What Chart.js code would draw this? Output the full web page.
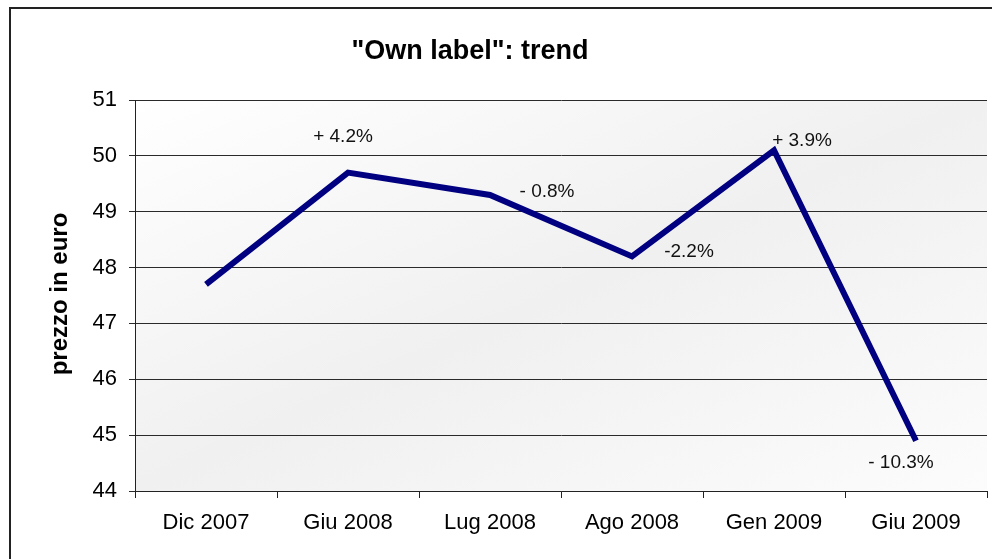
<!DOCTYPE html>
<html>
<head>
<meta charset="utf-8">
<script src="https://cdn.jsdelivr.net/npm/chart.js@4.4.1/dist/chart.umd.min.js"></script>
<style>
  html, body { margin: 0; padding: 0; background: #fff; overflow: hidden; }
  #frame { position: absolute; left: 9px; top: 7px; width: 1100px; height: 700px; border-left: 2px solid #222; border-top: 2px solid #222; }
  #wrap { position: absolute; left: 0; top: 0; width: 992px; height: 559px; }
</style>
</head>
<body>
<div id="frame"></div>
<div id="wrap"><canvas id="trendChart" width="992" height="559"></canvas></div>
<script>
var categories = ["Dic 2007", "Giu 2008", "Lug 2008", "Ago 2008", "Gen 2009", "Giu 2009"];
var prices = [47.7, 49.7, 49.3, 48.2, 50.1, 44.9];
var changes = ["", "+ 4.2%", "- 0.8%", "-2.2%", "+ 3.9%", "- 10.3%"];
var yTicks = [44, 45, 46, 47, 48, 49, 50, 51];

var chartTitle = '"Own label": trend';
var yTitle = 'prezzo in euro';
var fontFamily = 'Arial, "Liberation Sans", sans-serif';

// plot area fill: white corners top-left / bottom-right, grey band across the other diagonal
var plotBackground = {
  id: 'plotBackground',
  beforeDraw: function (chart) {
    var a = chart.chartArea;
    var ctx = chart.ctx;
    var cx = (a.left + a.right) / 2, cy = (a.top + a.bottom) / 2;
    var vx = a.height, vy = a.width;
    var len = Math.sqrt(vx * vx + vy * vy);
    var ux = vx / len, uy = vy / len;
    var half = (a.width / 2 * ux + a.height / 2 * uy);
    var g = ctx.createLinearGradient(cx - half * ux, cy - half * uy, cx + half * ux, cy + half * uy);
    g.addColorStop(0, '#ffffff');
    g.addColorStop(0.5, '#f0f0f0');
    g.addColorStop(1, '#fcfcfc');
    ctx.save();
    ctx.fillStyle = g;
    ctx.fillRect(a.left, a.top, a.width, a.height);
    ctx.restore();
  }
};

// chart title, axis title and the percent labels
var textLayer = {
  id: 'textLayer',
  afterDatasetsDraw: function (chart, args, opts) {
    var ctx = chart.ctx;
    ctx.save();
    ctx.fillStyle = '#000';
    ctx.textAlign = 'center';
    ctx.textBaseline = 'middle';

    ctx.font = 'bold 27px ' + fontFamily;
    ctx.fillText(chartTitle, 470, 52);

    ctx.save();
    ctx.translate(60, 294);
    ctx.rotate(-Math.PI / 2);
    ctx.font = 'bold 24px ' + fontFamily;
    ctx.fillText(yTitle, 0, 0);
    ctx.restore();

    ctx.font = '19px ' + fontFamily;
    ctx.fillStyle = '#111';
    var pts = chart.getDatasetMeta(0).data;
    for (var i = 0; i < pts.length; i++) {
      if (!changes[i]) continue;
      var off = opts.offsets[i];
      ctx.fillText(changes[i], pts[i].x + off[0], pts[i].y + off[1]);
    }
    ctx.restore();
  }
};

var ctx = document.getElementById('trendChart');
var trendChart = new Chart(ctx, {
  type: 'line',
  data: {
    labels: categories,
    datasets: [{
      data: prices,
      borderColor: '#000080',
      borderWidth: 6,
      borderJoinStyle: 'miter',
      pointRadius: 0,
      pointHoverRadius: 0,
      tension: 0,
      fill: false
    }]
  },
  options: {
    responsive: false,
    animation: false,
    layout: {
      padding: { left: 0, top: 100, right: 5, bottom: 0 }
    },
    plugins: {
      legend: { display: false },
      title: { display: false },
      tooltip: { enabled: false },
      textLayer: {
        offsets: [[0, 0], [-5, -36], [57, -3], [57, -5], [28, -10], [-15, 22]]
      }
    },
    scales: {
      x: {
        offset: true,
        grid: {
          offset: true,
          drawOnChartArea: false,
          drawTicks: true,
          tickLength: 7,
          color: '#222'
        },
        border: { color: '#222', width: 1 },
        ticks: {
          color: '#000',
          padding: 12,
          maxRotation: 0,
          font: { family: fontFamily, size: 22 }
        },
        afterFit: function (scale) { scale.height = 68; }
      },
      y: {
        min: yTicks[0],
        max: yTicks[yTicks.length - 1],
        afterBuildTicks: function (scale) {
          scale.ticks = yTicks.map(function (v) { return { value: v }; });
        },
        grid: {
          color: '#2a2a2a',
          lineWidth: 1,
          tickLength: 6
        },
        border: { color: '#222', width: 1 },
        ticks: {
          color: '#000',
          padding: 12,
          font: { family: fontFamily, size: 22 }
        },
        afterFit: function (scale) { scale.width = 135; }
      }
    }
  },
  plugins: [plotBackground, textLayer]
});
</script>
</body>
</html>
